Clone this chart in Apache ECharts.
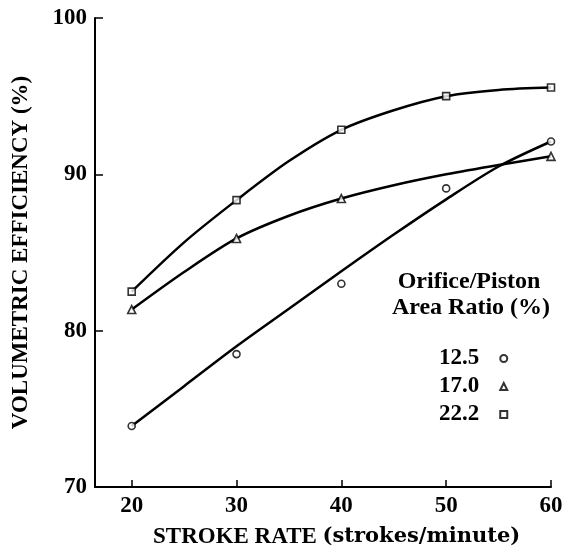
<!DOCTYPE html>
<html><head><meta charset="utf-8">
<script src="https://cdn.jsdelivr.net/npm/echarts@6/dist/echarts.min.js"></script>
<style>html,body{margin:0;padding:0;background:#fff}#c{width:564px;height:552px}</style>
</head><body><div id="c"></div>
<script>
// Measured points (stroke rate, volumetric efficiency %)
var strokeRates = [20, 30, 40, 50, 60];
var pts125 = [73.9, 78.5, 83.0, 89.1, 92.1];
var pts170 = [81.35, 85.9, 88.45, null, 91.15];
var pts222 = [82.5, 88.35, 92.85, 95.0, 95.55];
// Fitted curves
var curveX = [20, 25, 30, 35, 40, 45, 50, 55, 60];
var curve125 = [73.9, 76.45, 79.0, 81.4, 83.8, 86.15, 88.4, 90.5, 92.1];
var curve170 = [81.35, 83.75, 85.9, 87.35, 88.45, 89.3, 90.0, 90.6, 91.15];
var curve222 = [82.5, 85.65, 88.35, 90.85, 92.85, 94.1, 95.0, 95.4, 95.55];
var xTicks = [20, 30, 40, 50, 60];
var seriesNames = ['12.5', '17.0', '22.2'];
var symbols = ['circle', 'triangle', 'rect'];

function pairs(xs, ys) {
  var out = [];
  for (var i = 0; i < xs.length; i++) if (ys[i] != null) out.push([xs[i], ys[i]]);
  return out;
}
var SERIF = '"Liberation Serif", "Times New Roman", serif';
var pointSets = [pts125, pts170, pts222];
var curveSets = [curve125, curve170, curve222];
var series = [];
for (var k = 0; k < 3; k++) {
  series.push({
    type: 'line', name: 'curve' + k, data: pairs(curveX, curveSets[k]),
    smooth: 0.3, showSymbol: false, silent: true,
    lineStyle: { color: '#000', width: 2.5 }, z: 2
  });
}
for (var k = 0; k < 3; k++) {
  series.push({
    type: 'scatter', name: seriesNames[k], data: pairs(strokeRates, pointSets[k]),
    symbol: symbols[k], symbolSize: k === 1 ? 8 : 7,
    itemStyle: { color: '#fff', borderColor: '#000', borderWidth: 1.6 }, z: 5
  });
}

var chart = echarts.init(document.getElementById('c'), null, { renderer: 'canvas' });
chart.setOption({
  backgroundColor: '#fff',
  animation: false,
  grid: { left: 95, right: 13, top: 18, bottom: 65, containLabel: false, outerBoundsMode: 'none' },
  xAxis: {
    type: 'value', min: 16.5, max: 60,
    axisLine: { lineStyle: { color: '#000', width: 2 } },
    axisTick: { inside: true, length: 7, customValues: xTicks, lineStyle: { color: '#000', width: 1.5 } },
    axisLabel: { customValues: xTicks, margin: 8, color: '#000', fontFamily: SERIF, fontWeight: 'bold', fontSize: 23 },
    splitLine: { show: false }
  },
  yAxis: {
    type: 'value', min: 70, max: 100, interval: 10,
    axisLine: { show: true, lineStyle: { color: '#000', width: 2 } },
    axisTick: { show: true, inside: true, length: 8, lineStyle: { color: '#000', width: 1.5 } },
    axisLabel: { margin: 8, color: '#000', fontFamily: SERIF, fontWeight: 'bold', fontSize: 23 },
    splitLine: { show: false },
    name: 'VOLUMETRIC EFFICIENCY (%)', nameLocation: 'middle', nameGap: 62, nameRotate: 90,
    nameTextStyle: { color: '#000', fontFamily: SERIF, fontWeight: 'bold', fontSize: 23 }
  },
  legend: {
    data: seriesNames, orient: 'vertical', align: 'right',
    left: 434, top: 342, itemWidth: 7, itemHeight: 7, itemGap: 5,
    textStyle: { color: '#000', fontFamily: SERIF, fontWeight: 'bold', fontSize: 23, padding: [0, 16, 0, 0] },
    selectedMode: false
  },
  graphic: [
    { type: 'text', x: 469, y: 282, style: { text: 'Orifice/Piston', fill: '#000', font: 'bold 24px ' + SERIF, textAlign: 'center', textVerticalAlign: 'middle' } },
    { type: 'text', x: 471, y: 308, style: { text: 'Area Ratio (%)', fill: '#000', font: 'bold 24px ' + SERIF, textAlign: 'center', textVerticalAlign: 'middle' } },
    { type: 'text', x: 153, y: 537, style: {
        text: '{a|STROKE RATE }{b|(strokes/minute)}', textVerticalAlign: 'middle',
        rich: {
          a: { fontFamily: SERIF, fontWeight: 'bold', fontSize: 23, fill: '#000', color: '#000' },
          b: { fontFamily: '"DejaVu Serif", serif', fontWeight: 'bold', fontSize: 21, fill: '#000', color: '#000' }
        } } }
  ],
  series: series
});
</script></body></html>
